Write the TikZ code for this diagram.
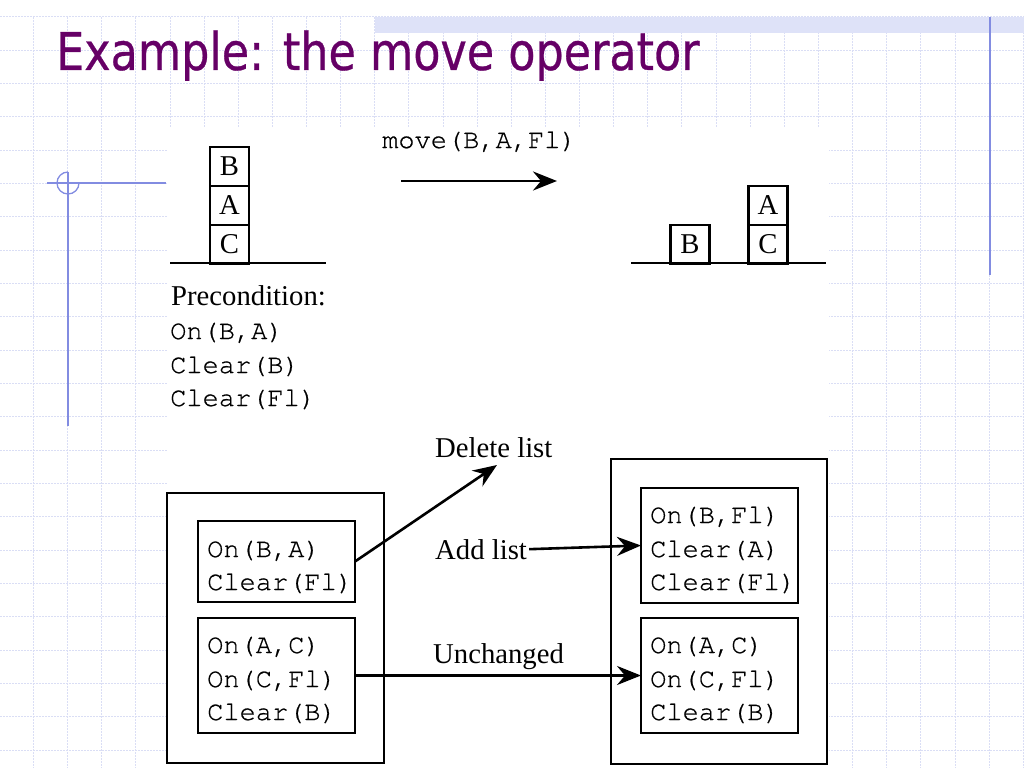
\documentclass[tikz,border=0pt]{standalone}
\usepackage{graphicx}
\usepackage{fontspec}
\setmainfont{Liberation Serif}
\setmonofont[FakeBold=0.7]{TeX Gyre Cursor}
\newfontfamily\titlefont[FakeBold=0.6]{DejaVu Sans}
\usepackage{tikz}
\usetikzlibrary{positioning}
\usetikzlibrary{arrows.meta}
\definecolor{titlepurple}{RGB}{102,0,102}
\definecolor{gridblue}{RGB}{218,222,245}
\definecolor{decoblue}{RGB}{130,140,225}
\definecolor{barblue}{RGB}{222,226,248}
\tikzset{
	blk/.style={draw, line width=2.7pt, minimum size=39pt, inner sep=0pt, outer sep=0pt, font=\fontsize{28.7}{30}\selectfont},
	txt/.style={inner sep=0pt, anchor=base west, font=\fontsize{28.7}{30}\selectfont},
	code/.style={inner sep=0pt, anchor=base west, font=\ttfamily\fontsize{27}{30}\selectfont},
	frame/.style={draw, line width=2.7pt, inner sep=0pt, outer sep=0pt},
	conn/.style={line width=2.6pt, -{Stealth[length=24pt,width=19pt,inset=8pt]}},
	gridln/.style={gridblue, line width=1pt, dash pattern=on 2pt off 1pt},
	deco/.style={decoblue, line width=1.3pt}
}

\begin{document}
\begin{tikzpicture}[x=1pt,y=-1pt]
	\useasboundingbox (0,0) rectangle (1024,768);
	% slide background
	\foreach \gx in {0,...,29} \draw[gridln] ({33.5+34.13*\gx},17) -- ({33.5+34.13*\gx},768);
	\foreach \gy in {0,...,22} \draw[gridln] (0,{17+33.33*\gy}) -- (1024,{17+33.33*\gy});
	\fill[white] (167,127) rectangle (829,768);
	\fill[barblue] (375,17) rectangle (1024,33);
	\draw[deco] (47,183) -- (166,183);
	\draw[deco] (68,172) -- (68,426);
	\draw[deco] (68,172) arc[start angle=90, end angle=360, radius=11pt];
	\draw[deco, line width=1.5pt] (990,17) -- (990,275);

	\node[anchor=base west, inner sep=0pt, text=titlepurple, font=\titlefont\fontsize{52}{60}\selectfont] (title) at (56,70) {\scalebox{0.855}[1]{Example: the move operator}};

	% before
	\node[blk] (lC) at (229.5,244.5) {C};
	\node[blk, above=0pt of lC] (lA) {A};
	\node[blk, above=0pt of lA] (lB) {B};
	\draw[line width=2.7pt] (170,263) -- (326,263);

	% after
	\node[blk] (rC) at (768,244.5) {C};
	\node[blk, above=0pt of rC] (rA) {A};
	\node[blk] (rB) at (690,244.5) {B};
	\draw[line width=2.7pt] (631,263) -- (826,263);

	\node[code] (mv) at (382,148) {move(B,A,Fl)};
	\coordinate (mvS) at (401,181);
	\coordinate (mvE) at (557,181);
	\draw[conn] (mvS) -- (mvE);

	\node[txt] (pre) at (171,305) {Precondition:};
	\node[code] (pre1) at (170,339) {On(B,A)};
	\node[code] (pre2) at (170,373) {Clear(B)};
	\node[code] (pre3) at (170,406) {Clear(Fl)};

	% state lists
	\node[frame, minimum width=217pt, minimum height=270pt] (outL) at (275.5,628) {};
	\node[frame, minimum width=157pt, minimum height=81pt] (inL1) at (276.5,561.5) {};
	\node[frame, minimum width=157pt, minimum height=115pt] (inL2) at (276.5,675.5) {};
	\node[frame, minimum width=216pt, minimum height=305pt] (outR) at (719,611.5) {};
	\node[frame, minimum width=157pt, minimum height=115pt] (inR1) at (719.5,545.5) {};
	\node[frame, minimum width=157pt, minimum height=115pt] (inR2) at (719.5,675.5) {};

	\node[code] (l11) at (207,557) {On(B,A)};
	\node[code] (l12) at (207,590) {Clear(Fl)};
	\node[code] (l21) at (207,653) {On(A,C)};
	\node[code] (l22) at (207,687) {On(C,Fl)};
	\node[code] (l23) at (207,720) {Clear(B)};
	\node[code] (r11) at (650,523) {On(B,Fl)};
	\node[code] (r12) at (650,557) {Clear(A)};
	\node[code] (r13) at (650,590) {Clear(Fl)};
	\node[code] (r21) at (650,653) {On(A,C)};
	\node[code] (r22) at (650,687) {On(C,Fl)};
	\node[code] (r23) at (650,720) {Clear(B)};

	\node[txt] (del) at (435,457) {Delete list};
	\node[txt] (add) at (435,559) {Add list};
	\node[txt] (unch) at (433,663) {Unchanged};
	\coordinate (delE) at (497,465);

	\draw[conn] (inL1.east) -- (delE);
	\draw[conn] ([xshift=2pt]add.east) -- (inR1.west);
	\draw[conn] (inL2.east) -- (inR2.west);
\end{tikzpicture}
\end{document}
